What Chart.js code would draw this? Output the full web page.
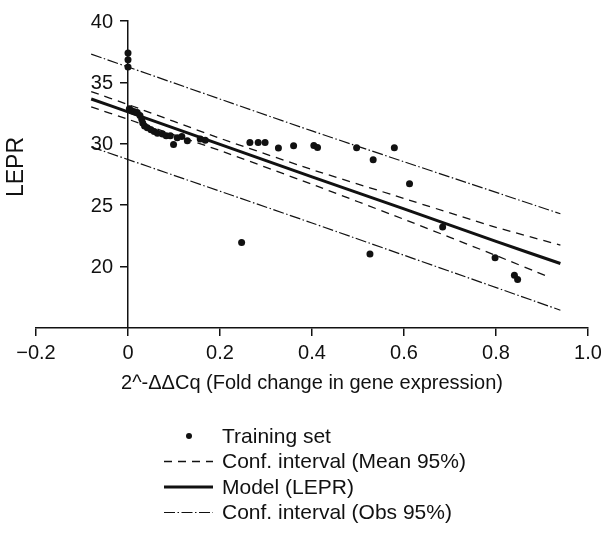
<!DOCTYPE html>
<html>
<head>
<meta charset="utf-8">
<script src="https://cdn.jsdelivr.net/npm/chart.js@4/dist/chart.umd.min.js"></script>
<style>
  html, body { margin: 0; padding: 0; background: #fff; }
  #wrap { width: 601px; height: 534px; }
</style>
</head>
<body>
<div id="wrap"><canvas id="chart" width="601" height="534"></canvas></div>
<script>
const xTicks = [-0.2, 0, 0.2, 0.4, 0.6, 0.8, 1.0];
const xTickLabels = ["\u22120.2", "0", "0.2", "0.4", "0.6", "0.8", "1.0"];
const yTicks = [20, 25, 30, 35, 40];

// training set
const trainX = [0, 0, 0, 0.003, 0.008, 0.014, 0.02, 0.026, 0.03, 0.032, 0.036, 0.042, 0.05,
  0.057, 0.064, 0.075, 0.083, 0.092, 0.099, 0.107, 0.117, 0.129, 0.157, 0.168, 0.247, 0.265,
  0.283, 0.298, 0.327, 0.36, 0.404, 0.412, 0.497, 0.526, 0.533, 0.579, 0.612, 0.684, 0.798,
  0.84, 0.847];
const trainY = [37.4, 36.85, 36.25, 32.85, 32.7, 32.6, 32.55, 32.3, 32.0, 31.7, 31.45, 31.3, 31.15,
  31.0, 30.85, 30.8, 30.65, 30.65, 29.95, 30.5, 30.6, 30.25, 30.4, 30.28, 21.97, 30.11,
  30.11, 30.11, 29.65, 29.84, 29.87, 29.7, 29.68, 21.02, 28.7, 29.68, 26.74, 23.23, 20.72,
  19.3, 18.95];

// model and interval lines
const lineX = [-0.08, 0.0, 0.2, 0.4, 0.6, 0.8, 0.94];
const modelY = [33.65, 32.6, 29.95, 27.3, 24.7, 22.05, 20.25];
const meanUpY = [34.25, 33.2, 30.45, 27.9, 25.55, 23.2, 21.75];
const meanLowX = [-0.08, 0.0, 0.2, 0.4, 0.6, 0.8, 0.915];
const meanLowY = [33.0, 32.0, 29.45, 26.7, 23.85, 20.9, 19.15];
const obsX = [-0.08, 0.4, 0.94];
const obsUpY = [37.3, 31.05, 24.3];
const obsLowY = [29.75, 23.55, 16.45];

const ink = "#111";
const family = "'Liberation Sans', Arial, sans-serif";
const pts = (xs, ys) => xs.map((x, i) => ({ x, y: ys[i] }));

const lineSet = (label, xs, ys, width, dash, skip) => ({
  label,
  data: pts(xs, ys),
  showLine: true,
  borderColor: ink,
  borderWidth: width,
  borderDash: dash,
  pointRadius: 0,
  fill: false,
  tension: 0.2,
  skipLegend: skip,
});

// y tick labels (the axis sits at x = 0), y title and a stacked legend
const extras = {
  id: "extras",
  afterDraw(chart) {
    const ctx = chart.ctx;
    const ys = chart.scales.y;
    const axisX = chart.scales.x.getPixelForValue(0);
    ctx.save();
    ctx.fillStyle = ink;
    ctx.strokeStyle = ink;
    ctx.textBaseline = "middle";

    ctx.font = "20px " + family;
    ctx.textAlign = "right";
    yTicks.forEach((v) => {
      ctx.fillText(String(v), axisX - 15, ys.getPixelForValue(v) + 1);
    });

    ctx.textAlign = "left";
    ctx.font = "21px " + family;
    const sets = chart.data.datasets.filter((d) => !d.skipLegend);
    sets.forEach((d, i) => {
      const y = 436 + i * 25.5;
      if (d.showLine) {
        ctx.beginPath();
        ctx.setLineDash(d.borderDash || []);
        ctx.lineWidth = d.borderWidth;
        ctx.moveTo(164, y);
        ctx.lineTo(213, y);
        ctx.stroke();
        ctx.setLineDash([]);
      } else {
        ctx.beginPath();
        ctx.arc(189, y, 3, 0, Math.PI * 2);
        ctx.fill();
      }
      ctx.fillText(d.label, 222, y + 1);
    });

    ctx.translate(17, 167);
    ctx.rotate(-Math.PI / 2);
    ctx.textAlign = "center";
    ctx.font = "23px " + family;
    ctx.fillText("LEPR", 0, 0);
    ctx.restore();
  },
};

new Chart(document.getElementById("chart"), {
  type: "scatter",
  data: {
    datasets: [
      {
        label: "Training set",
        data: pts(trainX, trainY),
        backgroundColor: ink,
        borderColor: ink,
        pointRadius: 3.5,
        pointBorderWidth: 0,
        showLine: false,
      },
      lineSet("Conf. interval (Mean 95%)", lineX, meanUpY, 1.3, [8, 6], false),
      lineSet("Conf. interval (Mean 95%)", meanLowX, meanLowY, 1.3, [8, 6], true),
      lineSet("Model (LEPR)", lineX, modelY, 3, [], false),
      lineSet("Conf. interval (Obs 95%)", obsX, obsUpY, 1.2, [11, 2.5, 1.5, 2.5], false),
      lineSet("Conf. interval (Obs 95%)", obsX, obsLowY, 1.2, [11, 2.5, 1.5, 2.5], true),
    ],
  },
  options: {
    responsive: false,
    animation: false,
    layout: { padding: { left: 36, right: 13, top: 21, bottom: 139 } },
    plugins: {
      legend: { display: false },
      tooltip: { enabled: false },
    },
    scales: {
      x: {
        type: "linear",
        position: "bottom",
        min: -0.2,
        max: 1.0,
        afterBuildTicks: (s) => {
          s.ticks = xTicks.map((v) => ({ value: v }));
        },
        afterFit: (s) => {
          s.paddingLeft = 0;
          s.paddingRight = 0;
        },
        ticks: {
          color: ink,
          font: { family, size: 20 },
          padding: 5,
          maxRotation: 0,
          callback: (v, i) => xTickLabels[i],
        },
        grid: {
          drawOnChartArea: false,
          drawTicks: true,
          tickLength: 8,
          color: ink,
          lineWidth: 1.5,
        },
        border: { color: ink, width: 1.5 },
        title: {
          display: true,
          text: "2^-\u0394\u0394Cq (Fold change in gene expression)",
          color: ink,
          font: { family, size: 20 },
          padding: { top: 1, bottom: 0 },
        },
      },
      y: {
        type: "linear",
        position: { x: 0 },
        min: 15,
        max: 40,
        afterBuildTicks: (s) => {
          s.ticks = yTicks.map((v) => ({ value: v }));
        },
        afterFit: (s) => {
          s.width = 0;
        },
        ticks: { display: false },
        grid: {
          drawOnChartArea: false,
          drawTicks: true,
          tickLength: 7,
          color: ink,
          lineWidth: 1.5,
        },
        border: { color: ink, width: 1.5 },
      },
    },
  },
  plugins: [extras],
});
</script>
</body>
</html>
